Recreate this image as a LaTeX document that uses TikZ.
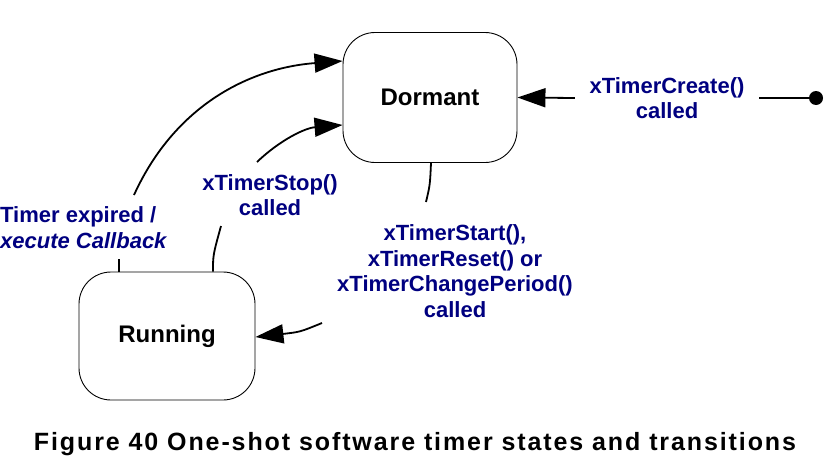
\documentclass[tikz,border=0pt]{standalone}
\usepackage{fontspec}
\setmainfont{Liberation Sans}
\newfontfamily\capfont[LetterSpace=7.6]{Liberation Sans}
\usetikzlibrary{arrows.meta}
\definecolor{lblblue}{RGB}{0,0,128}
\begin{document}
\begin{tikzpicture}[x=1pt,y=-1pt,
  statebox/.style={draw, line width=0.9pt, rounded corners=32pt, minimum width=174pt, minimum height=130pt, font=\fontsize{24}{28}\selectfont\bfseries},
  lbl/.style={text=lblblue, align=center, font=\fontsize{22}{25.5}\selectfont\bfseries},
  conn/.style={line width=1.8pt},
  arr/.style={conn, -{Triangle[length=28pt,width=19pt]}}]
\useasboundingbox (0,0) rectangle (829,460);

\node[statebox] (dormant) at (430,97.5) {Dormant};
\node[statebox, minimum width=176pt, minimum height=128pt] (running) at (167,336) {Running};

\node[circle, fill, inner sep=0pt, minimum size=14pt] (init) at (816,98) {};
\node[lbl, inner xsep=14.5pt] (create) at (667,98) {xTimerCreate()\\called};
\node[lbl] (stop) at (270,195) {xTimerStop()\\called};
\node[lbl] (start) at (455,271) {xTimerStart(),\\xTimerReset() or\\xTimerChangePeriod()\\called};
\node[lbl, align=left, anchor=west, inner sep=0pt] (expired) at (0,227.5) {Timer expired /\\\textit{xecute Callback}};

\node[anchor=base, font=\fontsize{25}{28}\selectfont\capfont\bfseries] (caption) at (415,450) {Figure 40 One-shot software timer states and transitions};

% create
\draw[conn] (init.center) -- (create.east);
\draw[arr] (create.west) -- (dormant.east);

% timer expired
\coordinate (e1) at ([xshift=-48pt]running.north);
\coordinate (e2) at (119,259);
\coordinate (e3) at (134,195);
\coordinate (e4) at ([yshift=36.5pt]dormant.west);
\draw[conn] (e1) -- (e2);
\draw[arr] (e3) .. controls (175,105) and (250,68) .. (e4);

% stop
\coordinate (s1) at ([xshift=46pt]running.north);
\coordinate (s2) at (221,226);
\coordinate (s3) at (257,162);
\coordinate (s4) at ([yshift=-27.5pt]dormant.west);
\draw[conn] (s1) .. controls (213,255) .. (s2);
\draw[arr] (s3) .. controls (280,140) and (305,128) .. (s4);

% start
\coordinate (t1) at ([xshift=1pt]dormant.south);
\coordinate (t2) at (426,202);
\coordinate (t3) at (322,323);
\coordinate (t4) at ([yshift=-1pt]running.east);
\draw[conn] (t1) .. controls (430,185) .. (t2);
\draw[arr] (t3) .. controls (300,332) .. (t4);
\end{tikzpicture}
\end{document}
